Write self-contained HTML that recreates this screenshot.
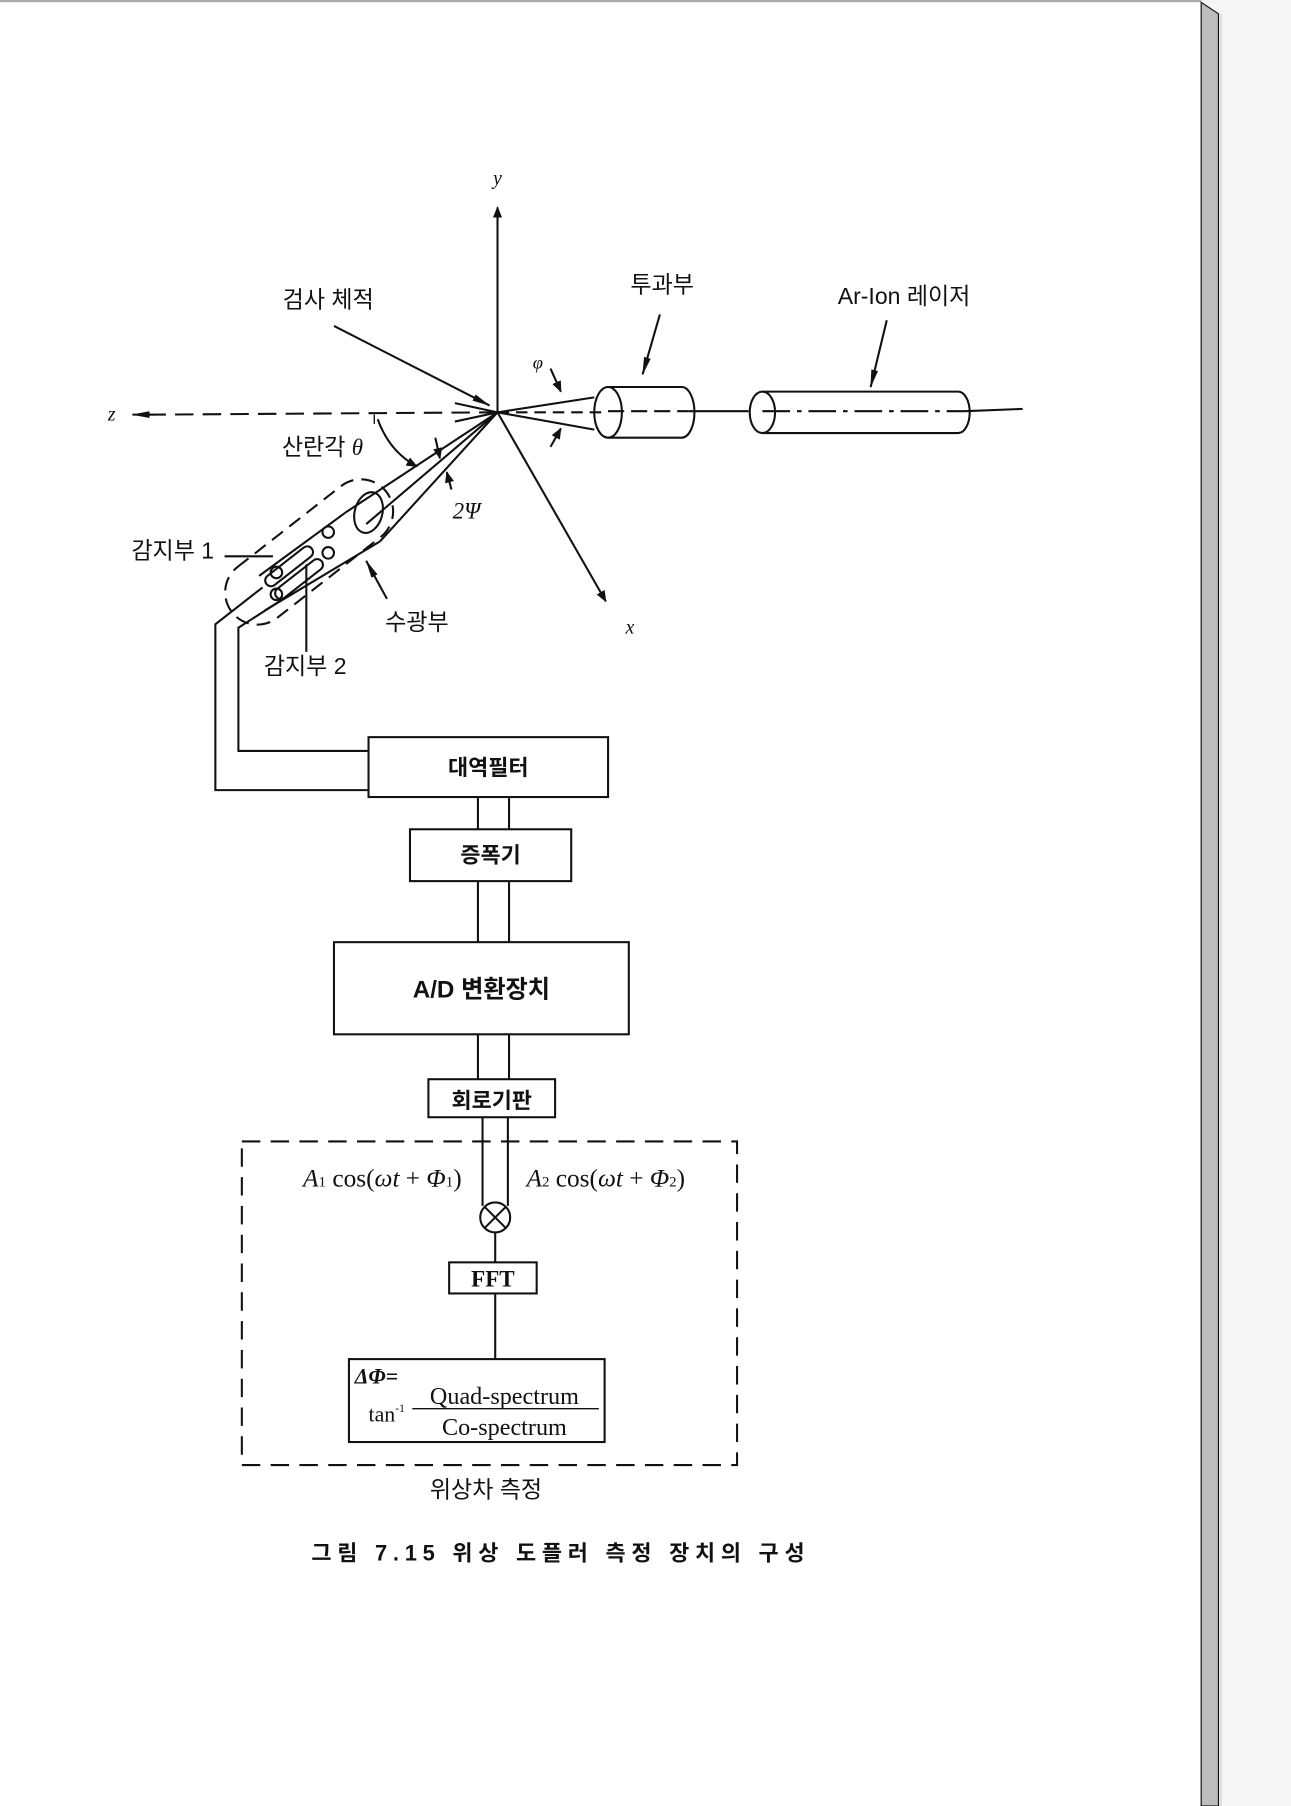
<!DOCTYPE html>
<html><head><meta charset="utf-8"><style>
html,body{margin:0;padding:0;background:#f6f6f6;}
svg{display:block;}
text{font-family:"Liberation Serif","Noto Serif CJK KR","Noto Serif CJK SC",serif;fill:#111;}
.k{font-family:"Liberation Sans","Noto Sans CJK KR",sans-serif;}
</style></head><body>
<svg width="1291" height="1806" viewBox="0 0 1121 1568" preserveAspectRatio="none" xmlns="http://www.w3.org/2000/svg">
<defs>
<marker id="a" markerWidth="10" markerHeight="8" refX="9" refY="4" orient="auto" markerUnits="userSpaceOnUse"><path d="M0,0 L10,4 L0,8 Z" fill="#111"/></marker>
<marker id="b" markerWidth="16" markerHeight="8" refX="15" refY="4" orient="auto" markerUnits="userSpaceOnUse"><path d="M0,1 L16,4 L0,7 Z" fill="#111"/></marker>
</defs>
<rect x="0" y="0" width="1121" height="1568" fill="#f6f6f6"/>
<rect x="0" y="0" width="1043" height="1568" fill="#fff"/>
<line x1="0" y1="1" x2="1043" y2="1" stroke="#aaa" stroke-width="2"/>
<polygon points="1043,2 1058,12 1058,1568 1043,1568" fill="#bdbdbd" stroke="#111" stroke-width="1"/>
<line x1="1060" y1="12" x2="1060" y2="1568" stroke="#ddd" stroke-width="2"/>

<g stroke="#111" stroke-width="1.8" fill="none">
<line x1="432" y1="358" x2="432" y2="180" marker-end="url(#a)"/>
<line x1="432" y1="358" x2="130" y2="360" stroke-dasharray="16,8"/>
<line x1="135" y1="360" x2="115" y2="360" marker-end="url(#b)"/>
<line x1="432" y1="358" x2="526" y2="522" marker-end="url(#a)"/>
<line x1="598" y1="357" x2="650" y2="357"/>
<line x1="838" y1="357" x2="888" y2="355"/>
<line x1="432" y1="358" x2="528" y2="358" stroke-dasharray="10,6"/>
<line x1="528" y1="357" x2="598" y2="357" stroke-dasharray="14,6"/>
<line x1="662" y1="357" x2="838" y2="357" stroke-dasharray="24,6,4,6"/>
<line x1="432" y1="358" x2="516" y2="345"/>
<line x1="432" y1="358" x2="516" y2="373"/>
<line x1="432" y1="358" x2="395" y2="350"/>
<line x1="432" y1="358" x2="395" y2="366"/>
<ellipse cx="528" cy="358" rx="12" ry="22"/>
<path d="M528,336 L592,336 A11,22 0 0 1 592,380 L528,380"/>
<ellipse cx="662" cy="358" rx="11" ry="18"/>
<path d="M662,340 L832,340 A10,18 0 0 1 832,376 L662,376"/>
<line x1="290" y1="283" x2="425" y2="352" marker-end="url(#b)"/>
<line x1="573" y1="273" x2="558" y2="325" marker-end="url(#b)"/>
<line x1="770" y1="278" x2="756" y2="336" marker-end="url(#b)"/>
<line x1="478" y1="320" x2="487" y2="340" marker-end="url(#a)"/>
<line x1="478" y1="388" x2="487" y2="372" marker-end="url(#a)"/>
<line x1="432" y1="358" x2="300" y2="445"/>
<line x1="432" y1="358" x2="330" y2="470"/>
<line x1="432" y1="358" x2="318" y2="455"/>
<line x1="325" y1="360" x2="325" y2="368" stroke-width="1.2"/>
<path d="M328,364 Q338,392 362,405" marker-end="url(#a)"/>
<line x1="378" y1="380" x2="382" y2="398" marker-end="url(#a)"/>
<line x1="392" y1="425" x2="388" y2="410" marker-end="url(#a)"/>
<g transform="rotate(-38 270 478)">
<rect x="183" y="450" width="170" height="56" rx="28" stroke-dasharray="12,7"/>
</g>
<ellipse cx="320" cy="445" rx="12" ry="18" transform="rotate(15 320 445)"/>
<line x1="330" y1="470" x2="230" y2="530"/>
<line x1="300" y1="445" x2="225" y2="500"/>
<circle cx="285" cy="462" r="5"/>
<circle cx="285" cy="480" r="5"/>
<g transform="rotate(-38 255 500)">
<rect x="232" y="486" width="50" height="10" rx="5"/>
<rect x="232" y="500" width="50" height="10" rx="5"/>
</g>
<circle cx="240" cy="497" r="5"/>
<circle cx="240" cy="516" r="5"/>
<polyline points="228,510 187,542 187,686 320,686"/>
<polyline points="246,520 207,545 207,652 320,652"/>
<line x1="195" y1="483" x2="237" y2="483"/>
<line x1="266" y1="566" x2="266" y2="490"/>
<line x1="336" y1="520" x2="318" y2="487" marker-end="url(#b)"/>
<rect x="320" y="640" width="208" height="52"/>
<line x1="415" y1="692" x2="415" y2="720"/><line x1="442" y1="692" x2="442" y2="720"/>
<rect x="356" y="720" width="140" height="45"/>
<line x1="415" y1="765" x2="415" y2="818"/><line x1="442" y1="765" x2="442" y2="818"/>
<rect x="290" y="818" width="256" height="80"/>
<line x1="415" y1="898" x2="415" y2="937"/><line x1="442" y1="898" x2="442" y2="937"/>
<rect x="372" y="937" width="110" height="33"/>
<rect x="210" y="991" width="430" height="281" stroke-dasharray="16,9"/>
<line x1="419" y1="970" x2="419" y2="1047"/><line x1="441" y1="970" x2="441" y2="1047"/>
<circle cx="430" cy="1057" r="13"/>
<line x1="421" y1="1048" x2="439" y2="1066"/><line x1="439" y1="1048" x2="421" y2="1066"/>
<line x1="430" y1="1070" x2="430" y2="1096"/>
<rect x="390" y="1096" width="76" height="27"/>
<line x1="430" y1="1123" x2="430" y2="1180"/>
<rect x="303" y="1180" width="222" height="72"/>
<line x1="358" y1="1223" x2="520" y2="1223" stroke-width="1.2"/>
</g>

<g font-size="20">
<text x="432" y="160" text-anchor="middle" font-style="italic" font-size="17">y</text>
<text x="97" y="365" text-anchor="middle" font-style="italic" font-size="17">z</text>
<text x="547" y="550" text-anchor="middle" font-style="italic" font-size="17">x</text>
<text x="467" y="320" text-anchor="middle" font-style="italic" font-size="16">φ</text>
<text x="285" y="267" text-anchor="middle" class="k">검사 체적</text>
<text x="575" y="254" text-anchor="middle" class="k">투과부</text>
<text x="785" y="264" text-anchor="middle" class="k">Ar-Ion 레이저</text>
<text x="280" y="395" text-anchor="middle" class="k">산란각 <tspan font-style="italic" font-family="Liberation Serif">θ</tspan></text>
<text x="405" y="450" text-anchor="middle" font-style="italic">2Ψ</text>
<text x="150" y="485" text-anchor="middle" class="k">감지부 1</text>
<text x="265" y="585" text-anchor="middle" class="k">감지부 2</text>
<text x="362" y="547" text-anchor="middle" class="k">수광부</text>
<text x="424" y="673" text-anchor="middle" class="k" font-weight="bold" font-size="19">대역필터</text>
<text x="426" y="749" text-anchor="middle" class="k" font-weight="bold" font-size="19">증폭기</text>
<text x="418" y="866" text-anchor="middle" class="k" font-weight="bold" font-size="21">A/D 변환장치</text>
<text x="427" y="962" text-anchor="middle" class="k" font-weight="bold" font-size="19">회로기판</text>
<text x="332" y="1030" text-anchor="middle" font-size="22"><tspan font-style="italic">A</tspan><tspan font-size="13">1</tspan> cos(<tspan font-style="italic">ωt</tspan> + <tspan font-style="italic">Φ</tspan><tspan font-size="13">1</tspan>)</text>
<text x="526" y="1030" text-anchor="middle" font-size="22"><tspan font-style="italic">A</tspan><tspan font-size="13">2</tspan> cos(<tspan font-style="italic">ωt</tspan> + <tspan font-style="italic">Φ</tspan><tspan font-size="13">2</tspan>)</text>
<text x="428" y="1117" text-anchor="middle" font-weight="bold" font-size="20">FFT</text>
<text x="308" y="1201" font-style="italic" font-weight="bold" font-size="19">ΔΦ=</text>
<text x="320" y="1234" font-size="19">tan<tspan font-size="10" dy="-8">-1</tspan></text>
<text x="438" y="1219" text-anchor="middle" font-size="21">Quad-spectrum</text>
<text x="438" y="1246" text-anchor="middle" font-size="21">Co-spectrum</text>
<text x="422" y="1300" text-anchor="middle" class="k" font-size="20">위상차 측정</text>
<text x="487" y="1355" text-anchor="middle" class="k" font-weight="bold" font-size="19" letter-spacing="5">그림 7.15  위상 도플러 측정 장치의 구성</text>
</g>
</svg>
</body></html>
